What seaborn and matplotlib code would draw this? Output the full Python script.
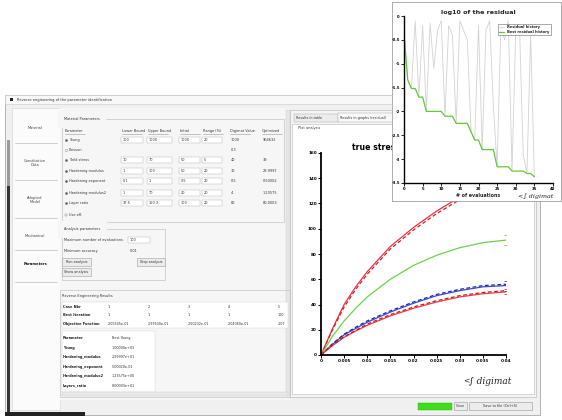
import numpy as np
import pandas as pd
import matplotlib
matplotlib.use("Agg")
import matplotlib.pyplot as plt
import seaborn as sns
from matplotlib.patches import Rectangle

# ---------------- data ----------------
strain = [0, 0.0025, 0.005, 0.0075, 0.01, 0.015, 0.02, 0.025, 0.03, 0.035, 0.04]
red_upper_sim = [0, 21, 40, 54, 66, 86, 101, 114, 125, 135, 143]
red_upper_exp = [0, 20, 38, 52, 64, 84, 99, 112, 123, 133, 141]
green_sim = [0, 15, 27, 37, 46, 60, 71, 79, 85, 89, 91]
blue_sim = [0, 8.5, 16, 21, 26, 34, 41, 47, 51, 54, 55]
blue_exp = [0, 9, 16.5, 22, 27, 35, 42, 48, 52, 55, 56]
red_lower_sim = [0, 7.5, 14, 19, 23.5, 31, 37, 42, 46, 48.5, 50]
red_lower_exp = [0, 8, 14.5, 19.5, 24.5, 32, 38, 43, 47, 49.5, 51]
end_errors = {"green_sim": 4, "blue_sim": 4, "red_lower_sim": 2}

evaluations = list(range(36))
residual_history = [-0.36, -1.34, -1.52, -0.10, -1.70, -0.20, -2.00, -0.15, -1.10, -0.30,
                    -0.10, -2.10, -0.20, -0.40, -2.25, -0.10, -0.30, -0.50, -2.43, -2.60,
                    -0.20, -2.80, -0.30, -0.10, -1.90, -3.16, -0.20, -0.50, -0.10, -3.25,
                    -0.30, -0.20, -2.90, -3.30, -0.40, -3.37]

main_xticks = [0, 0.005, 0.01, 0.015, 0.02, 0.025, 0.03, 0.035, 0.04]
main_xticklabels = ["0", "0.005", "0.01", "0.015", "0.02", "0.025", "0.03", "0.035", "0.04"]
main_yticks = [0, 20, 40, 60, 80, 100, 120, 140, 160]
inset_xticks = [0, 5, 10, 15, 20, 25, 30, 35, 40]
inset_yticks = [0, -0.5, -1, -1.5, -2, -2.5, -3, -3.5]

tabs = ["Material", "Constitutive\nData", "Adopted\nModel", "Mechanical", "Parameters"]
param_headers = ["Parameter", "Lower Bound", "Upper Bound", "Initial", "Range (%)", "Digimat Value", "Optimized"]
param_rows = [
    ("Young", True, ["100", "1000", "1000", "20"], "1000", "904632"),
    ("Poisson", False, None, "0.3", ""),
    ("Yield stress", True, ["10", "70", "50", "5"], "40", "39"),
    ("Hardening modulus", True, ["1", "100", "50", "20"], "30", "29.9997"),
    ("Hardening exponent", True, ["0.1", "1", "0.5", "20"], "0.5", "0.50002"),
    ("Hardening modulus2", True, ["1", "70", "20", "20"], "4", "1.23575"),
    ("Layer ratio", True, ["37.5", "150.3", "100", "20"], "80", "80.0003"),
]
result_cols = ["1", "2", "3", "4", "5"]
best_iter = ["1", "1", "1", "1", "100"]
objective = ["2.05545e-01", "2.97630e-01", "2.50232e-01", "2.04060e-01", "2.07"]
best_params = [("Parameter", "Best Young"), ("Young", "1.00000e+03"),
               ("Hardening_modulus", "2.99997e+01"), ("Hardening_exponent", "5.00020e-01"),
               ("Hardening_modulus2", "1.23575e+00"), ("Layers_ratio", "8.00003e+01")]

# ---------------- setup ----------------
sns.set_theme(style="white")
plt.rcParams['font.family'] = ['DejaVu Sans']

W, H = 562, 420
fig = plt.figure(figsize=(W / 100, H / 100), dpi=100)
fig.patch.set_facecolor("white")
bg = fig.add_axes([0, 0, 1, 1])
bg.set_xlim(0, W)
bg.set_ylim(H, 0)
bg.axis("off")


def px_axes(x0, y0, x1, y1, z=1):
    a = fig.add_axes([x0 / W, (H - y1) / H, (x1 - x0) / W, (y1 - y0) / H])
    a.set_zorder(z)
    return a


def rect(x0, y0, x1, y1, fc, ec="none", lw=0.5, z=1):
    bg.add_patch(Rectangle((x0, y0), x1 - x0, y1 - y0, facecolor=fc, edgecolor=ec, lw=lw, zorder=z))


def txt(x, y, s, fs=2.6, z=3, **kw):
    kw.setdefault("va", "center")
    kw.setdefault("color", "#333333")
    bg.text(x, y, s, fontsize=fs, zorder=z, **kw)


# ---------------- window ----------------
rect(5, 95, 540, 415, "#f0f0f0", ec="#a8a8a8", lw=0.6)
rect(5, 95, 540, 104, "#f8f8f8", ec="#c8c8c8", lw=0.4)
rect(10, 97.5, 13, 101, "#222222", z=2)
txt(17, 99.5, "Reverse engineering of the parameter identification", fs=2.6)

# left tabs
rect(12, 108, 60, 410, "#fbfbfb", ec="#d0d0d0", lw=0.4)
for ysep in [143, 180, 218, 250, 282]:
    bg.plot([15, 57], [ysep, ysep], color="#c8c8c8", lw=0.6, zorder=2)
tab_y = [128, 163, 200, 236, 264]
for t, ty in zip(tabs, tab_y):
    txt(35, ty, t, fs=2.6, ha="center", weight="bold" if t == "Parameters" else "normal",
        color="#111111" if t == "Parameters" else "#444444", linespacing=1.3)
rect(7, 140, 10, 186, "#9a9a9a", z=2)
rect(7, 186, 10, 413, "#333333", z=2)
rect(5, 412, 85, 415.5, "#222222", z=2)

# content area
rect(60, 108, 290, 400, "#f6f6f6", ec="none")
rect(286, 110, 290, 396, "#e6e6e6", ec="#cccccc", lw=0.3)

# material parameters group
rect(62, 119, 284, 222, "none", ec="#c4c4c4", lw=0.5, z=2)
txt(64, 119, "Material Parameters", fs=2.5, backgroundcolor="#f6f6f6")
hx = [65, 122, 148, 180, 203, 230, 262]
for h, x in zip(param_headers, hx):
    txt(x, 131, h, fs=2.5)
    bg.plot([x, x + 20], [134, 134], color="#999999", lw=0.4, zorder=2)
row_y = [140, 150, 160, 171, 181, 193, 203]
box_x = [(121, 143), (147, 172), (179, 200), (202, 222)]
for (name, checked, vals, dig, opt), ry in zip(param_rows, row_y):
    bg.scatter([66], [ry], s=2.5, color="#555555" if checked else "white",
               edgecolor="#777777", lw=0.3, zorder=3)
    txt(69, ry, name, fs=2.5)
    if vals is not None:
        for (bx0, bx1), v in zip(box_x, vals):
            rect(bx0, ry - 3, bx1, ry + 3, "white", ec="#bcbcbc", lw=0.35, z=2)
            txt(bx0 + 1.5, ry, v, fs=2.5)
    txt(231, ry, dig, fs=2.5)
    txt(263, ry, opt, fs=2.5)
bg.scatter([66], [215], s=2.5, color="white", edgecolor="#777777", lw=0.3, zorder=3, marker="s")
txt(69, 215, "Use eff.", fs=2.5)

# analysis parameters group
rect(62, 229, 165, 280, "none", ec="#c4c4c4", lw=0.5, z=2)
txt(64, 229, "Analysis parameters", fs=2.5, backgroundcolor="#f6f6f6")
txt(64, 240, "Maximum number of evaluations", fs=2.5)
rect(128, 237, 150, 243, "white", ec="#bcbcbc", lw=0.35, z=2)
txt(130, 240, "100", fs=2.5)
txt(64, 251, "Minimum accuracy", fs=2.5)
txt(130, 251, "0.01", fs=2.5)
for (bx0, by0, bx1, by1, lab) in [(62, 258, 91, 266, "Run analysis"), (137, 258, 165, 266, "Stop analysis"),
                                  (62, 268, 91, 276, "Show analysis")]:
    rect(bx0, by0, bx1, by1, "#ececec", ec="#a0a0a0", lw=0.4, z=2)
    txt((bx0 + bx1) / 2, (by0 + by1) / 2, lab, fs=2.4, ha="center")

# results group
rect(60, 290, 290, 397, "none", ec="#c4c4c4", lw=0.5, z=2)
txt(62, 296, "Reverse Engineering Results", fs=2.5)
rect(62, 302, 288, 328, "white", ec="#d0d0d0", lw=0.3, z=2)
for lab, vals, yy in [("Case Nbr", result_cols, 307), ("Best Iteration", best_iter, 315),
                      ("Objective Function", objective, 324)]:
    txt(63, yy, lab, fs=2.5, weight="bold", color="#222222")
    for i, v in enumerate(vals):
        txt(108 + i * 40 if i < 4 else 278, yy, v, fs=2.4)
rect(62, 331, 155, 392, "white", ec="#d0d0d0", lw=0.3, z=2)
for i, (p, v) in enumerate(best_params):
    yy = 338 + i * 9.6
    txt(63, yy, p, fs=2.5, weight="bold", color="#222222")
    txt(112, yy, v, fs=2.4)
rect(62, 392, 288, 396, "#e8e8e8", ec="#c8c8c8", lw=0.3, z=2)

# right pane
rect(290, 110, 536, 397, "#f4f4f4", ec="#bdbdbd", lw=0.5)
rect(294, 114, 338, 122, "#ececec", ec="#b0b0b0", lw=0.35, z=2)
txt(296, 118, "Results in table", fs=2.4)
rect(338, 113, 400, 122, "#f8f8f8", ec="#b0b0b0", lw=0.35, z=2)
txt(340, 118, "Results in graphs (residual)", fs=2.4)
rect(292, 124, 534, 394, "white", ec="#bbbbbb", lw=0.4, z=2)
txt(298, 128.5, "Plot analysis", fs=2.5)
txt(352, 148, "true stress - true strain", fs=5.6, weight="bold", color="black", z=3)
txt(463, 381, "<", fs=5.5, color="#222222", style="italic", family="DejaVu Serif")
txt(469, 381, "∫ digimat", fs=6.5, color="#222222", style="italic", family="DejaVu Serif")

# bottom bar
rect(418, 403, 452, 409.5, "#3ede1c", ec="#2cae10", lw=0.3, z=2)
rect(454, 402, 467, 410, "#ececec", ec="#9a9a9a", lw=0.4, z=2)
txt(460.5, 406, "Close", fs=2.4, ha="center")
rect(469, 402, 532, 410, "#ececec", ec="#9a9a9a", lw=0.4, z=2)
txt(500.5, 406, "Save to file (Ctrl+S)", fs=2.4, ha="center")

# ---------------- main chart ----------------
ax = px_axes(321, 153, 506, 355, z=3)
ax.set_facecolor("white")
series = {
    "red_upper_sim": red_upper_sim, "red_upper_exp": red_upper_exp,
    "green_sim": green_sim,
    "blue_sim": blue_sim, "blue_exp": blue_exp,
    "red_lower_sim": red_lower_sim, "red_lower_exp": red_lower_exp,
}
df = pd.concat([pd.DataFrame({"strain": strain, "stress": v, "curve": k}) for k, v in series.items()])
palette = {"red_upper_sim": "#f0303c", "red_upper_exp": "#d81e2a", "green_sim": "#6fd04a",
           "blue_sim": "#3a46d8", "blue_exp": "#1e2aa8", "red_lower_sim": "#f23a40",
           "red_lower_exp": "#c81820"}
dashes = {"red_upper_sim": "", "red_upper_exp": (3, 2), "green_sim": "", "blue_sim": "",
          "blue_exp": (3, 2), "red_lower_sim": "", "red_lower_exp": (3, 2)}
sns.lineplot(data=df, x="strain", y="stress", hue="curve", style="curve", palette=palette,
             dashes=dashes, ax=ax, legend=False, lw=0.9)
for k, e in end_errors.items():
    ax.errorbar([strain[-1]], [series[k][-1]], yerr=[e], fmt="none", ecolor=palette[k],
                capsize=1.5, elinewidth=0.6, capthick=0.6)
ax.set_xlim(0, 0.04)
ax.set_ylim(0, 160)
ax.set_xticks(main_xticks)
ax.set_xticklabels(main_xticklabels)
ax.set_yticks(main_yticks)
ax.set_xlabel("")
ax.set_ylabel("")
ax.tick_params(axis="both", labelsize=3, length=2, width=0.7, direction="out", pad=1,
               bottom=True, left=True, colors="black")
for lab in ax.get_xticklabels() + ax.get_yticklabels():
    lab.set_fontweight("bold")
for s in ["top", "right"]:
    ax.spines[s].set_visible(False)
for s in ["left", "bottom"]:
    ax.spines[s].set_color("black")
    ax.spines[s].set_linewidth(1.3)

# ---------------- inset ----------------
frame = px_axes(392, 2, 561, 201, z=5)
frame.set_facecolor("white")
frame.set_xticks([])
frame.set_yticks([])
for s in frame.spines.values():
    s.set_color("#a0a0a0")
    s.set_linewidth(0.6)
frame.text(0.745, 0.008, "<∫ digimat", transform=frame.transAxes, fontsize=4.6, style="italic",
           family="DejaVu Serif", color="#222222", va="bottom")

ins = px_axes(404, 16, 553, 183, z=6)
ins.patch.set_alpha(0)
inset_df = pd.DataFrame({"evaluation": evaluations, "residual": residual_history})
inset_df["best"] = inset_df["residual"].cummin()
sns.lineplot(data=inset_df, x="evaluation", y="residual", ax=ins, color="#d2d2d2", lw=0.6,
             label="Residual history")
sns.lineplot(data=inset_df, x="evaluation", y="best", ax=ins, color="#62c83a", lw=0.9,
             label="Best residual history")
ins.set_xlim(0, 40)
ins.set_ylim(-3.5, 0)
ins.set_xticks(inset_xticks)
ins.set_yticks(inset_yticks)
ins.set_yticklabels([("%g" % v) for v in inset_yticks])
ins.set_ylabel("")
ins.set_xlabel("# of evaluations", fontsize=3.4, weight="bold", labelpad=1.0)
ins.set_title("log10 of the residual", fontsize=4.6, weight="bold", pad=1.5)
ins.tick_params(axis="both", labelsize=2.8, length=2, width=0.6, direction="out", pad=1,
                bottom=True, left=True, colors="black")
for lab in ins.get_xticklabels() + ins.get_yticklabels():
    lab.set_fontweight("bold")
for s in ["top", "right"]:
    ins.spines[s].set_visible(False)
for s in ["left", "bottom"]:
    ins.spines[s].set_color("black")
    ins.spines[s].set_linewidth(1.0)
leg = ins.legend(loc="upper right", bbox_to_anchor=(1.0, 0.965), fontsize=2.6, frameon=True,
                 fancybox=False, handlelength=1.5, borderpad=0.4, labelspacing=0.2)
leg.get_frame().set_edgecolor("#444444")
leg.get_frame().set_linewidth(0.4)
for t in leg.get_texts():
    t.set_fontweight("bold")

fig.savefig("out.png", dpi=100)
